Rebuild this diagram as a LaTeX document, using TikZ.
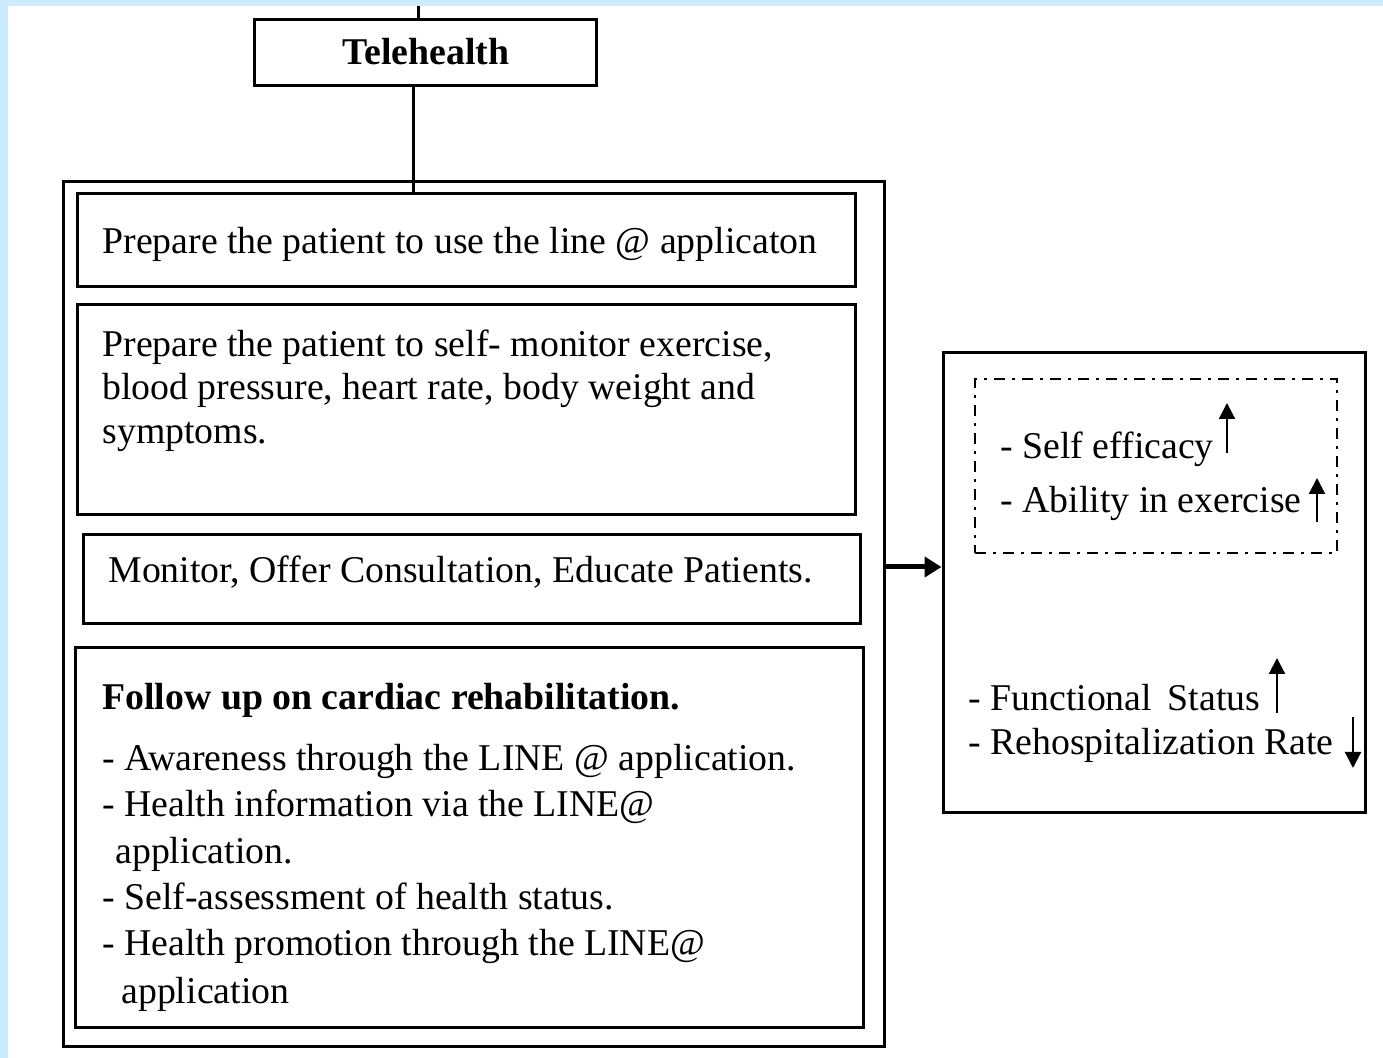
\documentclass[tikz,border=0pt]{standalone}
\usepackage{fontspec}
\setmainfont{Liberation Serif}
\usetikzlibrary{arrows.meta,fit}
\definecolor{bgblue}{HTML}{CCEBFF}

\begin{document}
\begin{tikzpicture}[
    x=0.5pt, y=-0.5pt,
    box/.style={draw, line width=1.5pt, inner sep=0pt},
    txt/.style={anchor=base west, inner sep=0pt,
        font=\fontsize{18.9pt}{22pt}\selectfont},
    boldtxt/.style={txt, font=\fontsize{18.9pt}{22pt}\selectfont\bfseries},
    trend/.style={line width=1.1pt, -{Triangle[length=8pt,width=8pt]}}]
    \useasboundingbox (0,0) rectangle (1383,1058);
    \fill[bgblue] (0,0) rectangle (1383,1058);
    \fill[white] (8,6) rectangle (1383,1058);

    % telehealth and the left column
    \node[box, fit={(254,20)(596,86)}] (tele) {};
    \node[boldtxt, anchor=base] (teletxt) at (426,65) {Telehealth};

    \node[box, fit={(63,182)(884,1046)}] (outer) {};
    \node[box, fit={(77,194)(855,287)}] (useline) {};
    \node[box, fit={(77,305)(855,515)}] (selfmon) {};
    \node[box, fit={(83,535)(860,624)}] (monitor) {};
    \node[box, fit={(75,648)(863,1027)}] (follow) {};

    \node[txt] (t1) at (102,254) {Prepare the patient to use the line @ applicaton};

    \node[txt] (t2a) at (102,357) {Prepare the patient to self- monitor exercise,};
    \node[txt] (t2b) at (102,400) {blood pressure, heart rate, body weight and};
    \node[txt] (t2c) at (102,444) {symptoms.};

    \node[txt] (t3) at (108,583) {Monitor, Offer Consultation, Educate Patients.};

    \node[boldtxt] (t4) at (102,710) {Follow up on cardiac rehabilitation.};
    \node[txt] (t4a) at (102,771) {- Awareness through the LINE @ application.};
    \node[txt] (t4b) at (102,817) {- Health information via the LINE@};
    \node[txt] (t4c) at (115,864) {application.};
    \node[txt] (t4d) at (102,910) {- Self-assessment of health status.};
    \node[txt] (t4e) at (102,956) {- Health promotion through the LINE@};
    \node[txt] (t4f) at (121,1003) {application};

    % outcomes
    \node[box, fit={(943,353)(1365,813)}] (result) {};
    \node[draw, line width=1.2pt, inner sep=0pt,
        dash pattern=on 5.5pt off 3.5pt on 1.5pt off 3.5pt,
        fit={(975,379)(1337,553)}] (short) {};

    \node[txt] (r1) at (1000,459) {- Self efficacy};
    \node[txt] (r2) at (1000,513) {- Ability in exercise};
    \node[txt] (r3) at (968,711) {- Functional\, Status};
    \node[txt] (r4) at (968,755) {- Rehospitalization Rate};

    \draw[trend] (1227,453) -- (1227,403);
    \draw[trend] (1317,522) -- (1317,478);
    \draw[trend] (1277,713) -- (1277,658);
    \draw[trend] (1353,717) -- (1353,768);

    % connectors
    \coordinate (topend) at (418,6);
    \coordinate (stem) at (413,0);
    \coordinate (ay) at (0,567);
    \draw[line width=1.5pt] (topend) -- (topend |- tele.north);
    \draw[line width=1.5pt] (stem |- tele.south) -- (stem |- useline.north);
    \draw[line width=2.5pt, -{Triangle[length=8.5pt,width=10pt]}]
        (outer.east |- ay) -- (result.west |- ay);
\end{tikzpicture}
\end{document}
